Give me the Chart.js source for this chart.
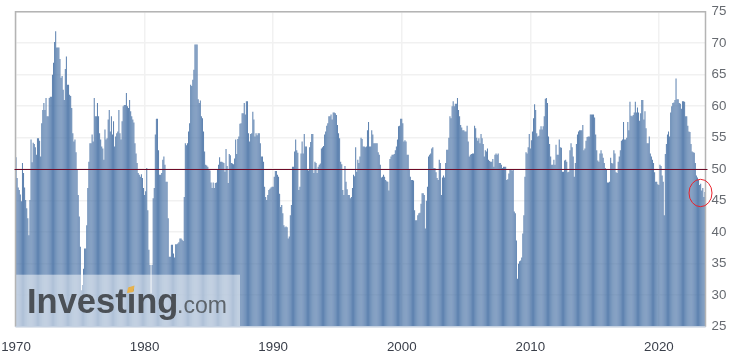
<!DOCTYPE html>
<html lang="en">

<head>
  <meta charset="UTF-8">
  <title>Manufacturing PMI</title>
  <style>
    html, body { margin: 0; padding: 0; background: #fff; }
    #wrap { width: 731px; height: 353px; }
  </style>
  <script src="https://cdn.jsdelivr.net/npm/chart.js"></script>
</head>

<body>
  <div id="wrap"><canvas id="pmiChart" width="731" height="353"></canvas></div>

<script>
  // monthly values, one list per decade
  const values1970s = [
    51.9,48.6,47.1,46.7,46,44.9,51,49.4,47.1,45.1,43.8,42.2,
    39.5,45.1,54.7,51.1,54.2,54,53.5,52.3,54.9,54.9,54.5,52,
    57.3,59.4,60.5,59.4,61.3,58.4,58.4,61.3,61.5,61.5,65,66.9,
    70.2,71.9,69.3,69.3,69.3,67.5,64.5,64.8,62.6,61,65.9,67.9,
    63.4,63.4,61.8,61.6,59.7,55.7,54.4,54.7,52.7,50,45.9,42.5,
    37.7,30.8,31.6,34.2,37.4,37.4,41.1,47,51.2,54.1,54.1,55.5,
    54.4,61.3,58.4,58.4,60.5,58.4,55.7,54.7,53.6,53.3,51.5,56.3,
    54.7,54.9,57.9,59.4,56,58.4,55.5,57.6,53.6,55.2,55.7,56,
    59.4,55.7,54.7,57.6,60,60.2,60.2,62.1,60,59.7,61,59.2,
    58.4,57.9,57.4,54.1,52.5,51,49.4,49.1,48.8,49.2,48.6,47
  ]
  const values1980s = [
    45.9,46.5,50.2,43.5,37.2,34.8,30.3,34.8,45.4,47,55.5,58,
    58,53,49.1,49.1,49.4,51.5,52,50.7,48,48,42.2,36.1,
    36.1,38,38,36.6,36,38.1,38.1,38.2,38.4,39,39,38.8,
    38.6,45.6,54.1,53.8,54.1,56,57.3,63.4,63.2,64.2,65.8,69.8,
    69.8,69.8,61.1,60.5,60.9,58.4,58.1,56,52.8,50.7,50.6,50.4,
    49.9,49.8,47.9,47,47.9,47,47.8,47.9,49.9,50.7,51.9,51.2,
    51.2,51.1,51,49.6,53.2,50.5,47.8,52.4,52.2,51,50.9,50.8,
    51.7,54.7,52.4,54.8,55.2,57.2,57.3,58.9,58.9,60.5,58.7,60.8,
    60.8,55.7,54.4,55.6,55.7,59.1,57.9,55.2,55.7,55.4,55.7,55.7,
    54.1,52,52,51.2,47.2,45.6,45.1,45.9,46.7,46.9,47.1,47.2
  ]
  const values1990s = [
    47.2,48.8,49.7,49.7,49.1,48.8,46.1,44,44.3,43,41.1,40.8,
    40.9,40.8,39,39.3,42.7,44.3,50.4,50.4,52.8,54.7,53,52.6,
    46.7,47.2,52.5,54.4,52.5,55.6,53.6,53.6,49.9,49.8,53.5,54.3,
    55.6,55.6,49.4,51.2,51,49.4,50.4,50.7,50.9,53.3,53.5,53.7,
    55.5,56,56.9,57.3,58.4,58.4,58.7,57.9,59,59,58.9,58.6,
    57,55.7,54.9,51.2,50.8,46.7,45.9,50.5,48,46.8,45.9,45.9,
    45.4,45.6,47,49.1,48.9,53.5,49.6,51.5,51,52,55,54.8,
    53.6,53.6,53.5,53.6,56.2,57.5,53.6,53.6,56.2,55.5,54.1,54.1,
    54.1,54.1,52.7,52.3,50.7,48.7,48.8,49.1,48.8,48.3,48.1,48,
    46.6,51.6,52,52.3,52.3,52.4,53,53.6,54.7,56.8,56.9,58
  ]
  const values2000s = [
    58,57.3,54.4,54.6,54.4,52.3,52.3,49.9,48.8,48.3,48.3,48.2,
    43.5,41.9,41.9,42.7,43,43.1,44.5,46.2,46.2,45.9,40.6,45,
    47.2,52,52.3,52.5,53.3,53.5,50.2,50.2,49.5,48.6,48.3,51.5,
    51,45.9,48.7,49,48.7,51,53.1,53.1,55,58.4,58.1,60,
    60.8,60,60.4,60.4,61.3,59.4,58.4,57,56.6,56.2,56.2,56,
    56,56.9,54.4,52,52.3,52.4,52.5,52.5,56.9,56.5,55,54.5,
    54.9,54.1,55.6,54.9,54,52,53,52.8,53.3,51.5,51.3,51.2,
    51.2,51.6,50.4,52.3,52.5,52.3,52.5,51,51,50.7,50.2,50.4,
    50.4,50.4,48.3,48.4,49.3,49.9,49.9,49.8,49.9,43.3,43,38.7,
    32.6,35,35.4,35.5,36,39.8,42.7,48.8,52.7,52.5,53.5,55.6
  ]
  const values2010s = [
    53.3,54.6,56,58.1,60.3,59.4,55.7,55.2,55.3,56.3,56.8,56.3,
    56.8,58.4,61.2,61.3,60.5,55.2,54,52,50.7,50.7,51.5,50.7,
    53.9,52.3,52.3,54.7,53.5,53.4,49.6,49.6,51.4,51.5,51.2,49.5,
    49.6,53,54.1,53.5,52,48.8,51,54,55.5,56,56.2,56.2,
    56.2,57,53,53.3,54.5,55.1,55.2,55.2,58.7,58.7,58.7,58.7,
    58.2,55.5,53,51.4,51.2,52.5,53,52.5,51.8,51,50.2,49.9,
    47.9,47.9,48,51.8,51,50.9,53,52.5,49.5,49.4,51.2,52,
    53,54.5,54.7,57.5,54.7,54.7,55,57.5,56.2,60.7,58.5,58.4,
    58.6,59,60.7,59,59.8,59,57.7,58.9,61,61,57.9,59.2,
    56.5,54.1,54.1,55.2,52.5,52,51.5,51,49.5,48,48,47.6
  ]
  const values2020s = [
    47.5,50.7,50.5,49,48,42.7,52.4,54,55.5,56,55.2,59,
    60,60.5,60.6,61,64.4,61.1,61.1,60.5,60.4,59.6,60.8,60.8,
    60.7,58.4,58.4,56.9,56,55.9,54,52.8,52.7,52.6,51,49,
    48.7,48.3,47.5,47.7,46.6,47,45.6,46.4
  ]
  const values = [...values1970s, ...values1980s, ...values1990s, ...values2000s, ...values2010s, ...values2020s]

  const firstYear = 1970
  const labelYears = [1970, 1980, 1990, 2000, 2010, 2020]
  const yMin = 25
  const yMax = 75
  const yStep = 5
  const referenceLevel = 50

  const categories = values.map((v, i) => firstYear + Math.floor(i / 12))

  const tickFont = { family: '"Liberation Sans", Arial, sans-serif', size: 13.33 }

  // frame, watermark, the 50 line and the red circle go on top of the bars
  const overlay = {
    id: 'overlay',
    afterDatasetsDraw(chart) {
      const { ctx, chartArea: a, scales } = chart
      const yRef = Math.floor(scales.y.getPixelForValue(referenceLevel)) + 0.5

      ctx.save()
      ctx.fillStyle = 'rgba(255,255,255,0.5)'
      ctx.fillRect(a.left, 274.7, 224.5, a.bottom - 274.7)

      ctx.textBaseline = 'alphabetic'
      ctx.textAlign = 'left'
      ctx.fillStyle = '#4b5056'
      ctx.font = 'bold 34.5px "Liberation Sans", Arial, sans-serif'
      ctx.fillText('Investing', 27, 313)
      ctx.fillStyle = '#5d646b'
      ctx.font = '23px "Liberation Sans", Arial, sans-serif'
      ctx.fillText('.com', 177, 313)

      ctx.fillStyle = '#e6b24e'
      ctx.beginPath()
      ctx.moveTo(128, 287.5)
      ctx.lineTo(134.5, 285.5)
      ctx.lineTo(133.5, 292)
      ctx.lineTo(127, 293)
      ctx.closePath()
      ctx.fill()

      ctx.strokeStyle = '#b4b4b4'
      ctx.lineWidth = 1.5
      ctx.beginPath()
      ctx.moveTo(a.left, a.bottom)
      ctx.lineTo(a.left, a.top)
      ctx.lineTo(a.right, a.top)
      ctx.lineTo(a.right, a.bottom)
      ctx.stroke()
      ctx.strokeStyle = '#c5d1e1'
      ctx.beginPath()
      ctx.moveTo(a.left, a.bottom)
      ctx.lineTo(a.right, a.bottom)
      ctx.stroke()

      ctx.strokeStyle = '#6e0b26'
      ctx.lineWidth = 1
      ctx.beginPath()
      ctx.moveTo(a.left - 1, yRef)
      ctx.lineTo(a.right + 2, yRef)
      ctx.stroke()

      ctx.strokeStyle = '#e8212b'
      ctx.lineWidth = 1
      ctx.beginPath()
      ctx.ellipse(700.5, 193, 11.5, 13.7, 0, 0, Math.PI * 2)
      ctx.stroke()
      ctx.restore()
    }
  }

  new Chart(document.getElementById('pmiChart'), {
    type: 'bar',
    data: {
      labels: categories,
      datasets: [{
        data: values,
        backgroundColor: 'rgba(78,118,168,0.92)',
        barPercentage: 0.95,
        categoryPercentage: 1
      }]
    },
    options: {
      responsive: false,
      animation: false,
      layout: { padding: { left: 15.5, top: 11.7 } },
      plugins: { legend: { display: false }, tooltip: { enabled: false } },
      scales: {
        x: {
          grid: { color: '#f1f1f1', lineWidth: 1.5, offset: false, drawTicks: false },
          border: { display: false },
          ticks: {
            autoSkip: false,
            maxRotation: 0,
            padding: 13,
            color: '#3a3f4a',
            font: tickFont
          },
          afterBuildTicks(scale) {
            scale.ticks = scale.ticks.filter(t => t.value % 12 === 0 && labelYears.includes(categories[t.value]))
          },
          afterFit(scale) {
            scale.height = 353 - 326.7
            scale.paddingLeft = 0
            scale.paddingRight = 0
          }
        },
        y: {
          position: 'right',
          min: yMin,
          max: yMax,
          grid: { color: '#f1f1f1', lineWidth: 1.5, drawTicks: false },
          border: { display: false },
          ticks: {
            stepSize: yStep,
            padding: 6,
            color: '#666a70',
            font: tickFont
          },
          afterFit(scale) {
            scale.width = 25.5
            scale.paddingTop = 0
            scale.paddingBottom = 0
          }
        }
      }
    },
    plugins: [overlay]
  })
</script>
</body>

</html>
